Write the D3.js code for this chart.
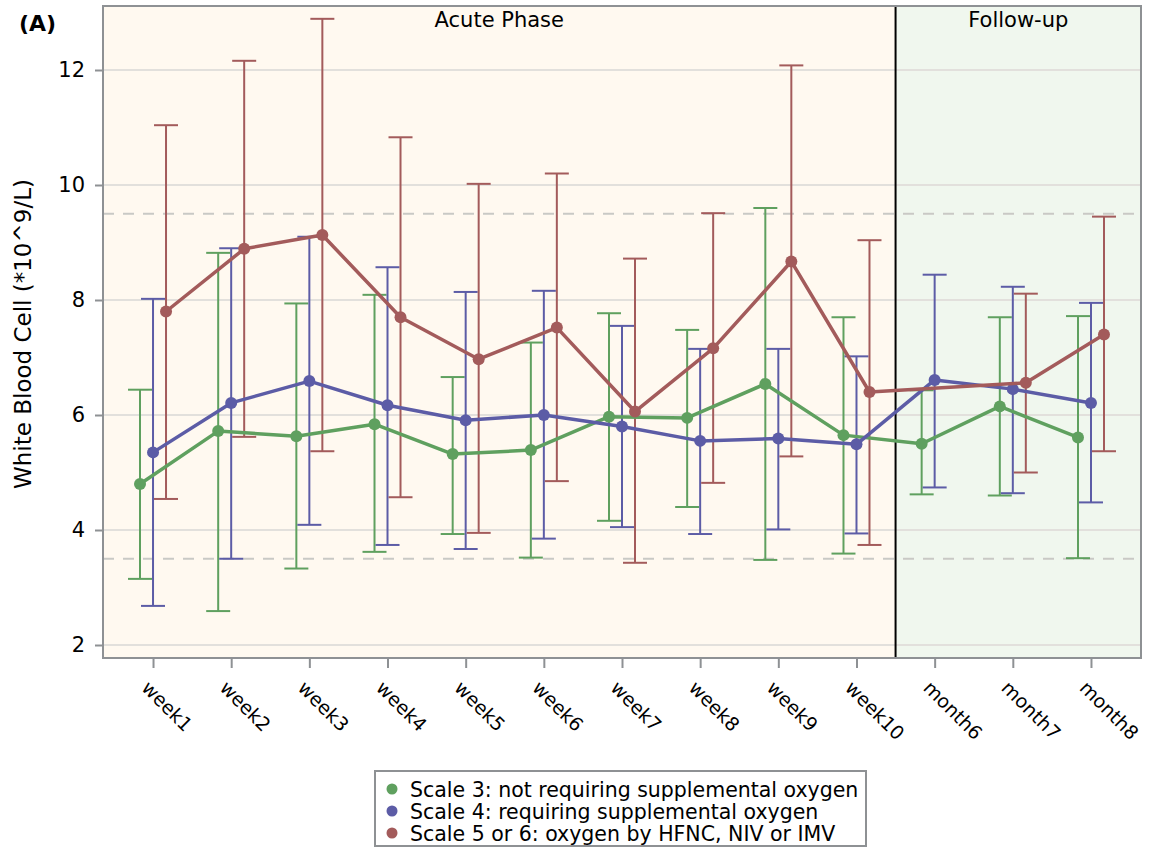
<!DOCTYPE html>
<html>
<head>
<meta charset="utf-8">
<script src="https://cdn.jsdelivr.net/npm/d3@7"></script>
<style>
  body { margin: 0; background: #fff; }
  text { font-family: "DejaVu Sans", sans-serif; }
</style>
</head>
<body>
<div id="chartArea"></div>
<script>
const categories = ["week1", "week2", "week3", "week4", "week5", "week6", "week7", "week8", "week9", "week10", "month6", "month7", "month8"];
const yTicks = [2, 4, 6, 8, 10, 12];
const refLines = [3.5, 9.5];

const scale3Mean = [4.80, 5.72, 5.63, 5.84, 5.32, 5.39, 5.97, 5.95, 6.54, 5.65, 5.50, 6.15, 5.61];
const scale3Low = [3.15, 2.59, 3.33, 3.62, 3.93, 3.52, 4.16, 4.40, 3.48, 3.59, 4.62, 4.60, 3.51];
const scale3High = [6.44, 8.82, 7.94, 8.09, 6.66, 7.26, 7.77, 7.48, 9.60, 7.70, 6.43, 7.70, 7.72];

const scale4Mean = [5.35, 6.21, 6.59, 6.17, 5.91, 6.00, 5.80, 5.55, 5.59, 5.49, 6.61, 6.45, 6.21];
const scale4Low = [2.68, 3.50, 4.09, 3.74, 3.67, 3.85, 4.05, 3.93, 4.01, 3.94, 4.74, 4.64, 4.48];
const scale4High = [8.02, 8.90, 9.10, 8.57, 8.14, 8.16, 7.55, 7.15, 7.15, 7.02, 8.44, 8.23, 7.95];

const scale56Mean = [7.80, 8.89, 9.13, 7.70, 6.97, 7.52, 6.06, 7.16, 8.67, 6.40, null, 6.56, 7.40];
const scale56Low = [4.54, 5.62, 5.37, 4.57, 3.95, 4.85, 3.43, 4.82, 5.28, 3.74, null, 5.00, 5.37];
const scale56High = [11.04, 12.16, 12.89, 10.83, 10.02, 10.20, 8.72, 9.51, 12.08, 9.04, null, 8.11, 9.45];

const seriesNames = [
    "Scale 3: not requiring supplemental oxygen",
    "Scale 4: requiring supplemental oxygen",
    "Scale 5 or 6: oxygen by HFNC, NIV or IMV"
];
const seriesColors = ["#5fa05f", "#5c5ca6", "#a35b5b"];
const seriesOffsets = [-13, 0, 13];

const series = [
    { mean: scale3Mean, low: scale3Low, high: scale3High },
    { mean: scale4Mean, low: scale4Low, high: scale4High },
    { mean: scale56Mean, low: scale56Low, high: scale56High }
].map((s, i) => ({
    name: seriesNames[i],
    color: seriesColors[i],
    offset: seriesOffsets[i],
    points: categories.map((c, j) => ({ cat: c, mean: s.mean[j], low: s.low[j], high: s.high[j] }))
        .filter(d => d.mean != null)
}));

const W = 1150, H = 852;
const plot = { left: 103, right: 1141, top: 6, bottom: 658 };

const svg = d3.select("#chartArea").append("svg")
    .attr("width", W)
    .attr("height", H);

const x = d3.scalePoint().domain(categories).range([plot.left, plot.right]).padding(0.64);
const y = d3.scaleLinear().domain([1.774, 13.113]).range([plot.bottom, plot.top]);

const divX = (x("week10") + x("month6")) / 2;

// phase backgrounds
svg.append("rect")
    .attr("x", plot.left).attr("y", plot.top)
    .attr("width", divX - plot.left).attr("height", plot.bottom - plot.top)
    .style("fill", "#fff9f0");
svg.append("rect")
    .attr("x", divX).attr("y", plot.top)
    .attr("width", plot.right - divX).attr("height", plot.bottom - plot.top)
    .style("fill", "#f0f7ee");

// grid
svg.append("g").selectAll("line")
    .data(yTicks)
    .enter().append("line")
    .attr("x1", plot.left).attr("x2", plot.right)
    .attr("y1", d => y(d)).attr("y2", d => y(d))
    .style("stroke", "#e2e0dc")
    .style("stroke-width", 2);

// reference lines
svg.append("g").selectAll("line")
    .data(refLines)
    .enter().append("line")
    .attr("x1", plot.left).attr("x2", plot.right)
    .attr("y1", d => y(d)).attr("y2", d => y(d))
    .style("stroke", "#c9c9c5")
    .style("stroke-width", 2)
    .style("stroke-dasharray", "11,9");

// divider
svg.append("line")
    .attr("x1", divX).attr("x2", divX)
    .attr("y1", plot.top).attr("y2", plot.bottom)
    .style("stroke", "#000")
    .style("stroke-width", 2);

// phase labels
svg.append("text")
    .attr("x", (plot.left + divX) / 2).attr("y", 27)
    .attr("text-anchor", "middle")
    .style("font-size", "21px")
    .text("Acute Phase");
svg.append("text")
    .attr("x", (divX + plot.right) / 2).attr("y", 27)
    .attr("text-anchor", "middle")
    .style("font-size", "21px")
    .text("Follow-up");

// series
const line = d3.line()
    .x(d => x(d.cat))
    .y(d => y(d.mean));

series.forEach(s => {
    const g = svg.append("g").attr("transform", `translate(${s.offset},0)`);
    const bars = g.selectAll(".err")
        .data(s.points)
        .enter().append("g")
        .style("stroke", s.color)
        .style("stroke-width", 2);
    bars.append("line")
        .attr("x1", d => x(d.cat)).attr("x2", d => x(d.cat))
        .attr("y1", d => y(d.low)).attr("y2", d => y(d.high));
    bars.append("line")
        .attr("x1", d => x(d.cat) - 12).attr("x2", d => x(d.cat) + 12)
        .attr("y1", d => y(d.low)).attr("y2", d => y(d.low));
    bars.append("line")
        .attr("x1", d => x(d.cat) - 12).attr("x2", d => x(d.cat) + 12)
        .attr("y1", d => y(d.high)).attr("y2", d => y(d.high));
});

series.forEach(s => {
    const g = svg.append("g").attr("transform", `translate(${s.offset},0)`);
    g.append("path")
        .datum(s.points)
        .attr("d", line)
        .style("fill", "none")
        .style("stroke", s.color)
        .style("stroke-width", 3.5)
        .style("stroke-linejoin", "round");
    g.selectAll("circle")
        .data(s.points)
        .enter().append("circle")
        .attr("cx", d => x(d.cat))
        .attr("cy", d => y(d.mean))
        .attr("r", 6)
        .style("fill", s.color);
});

// frame
svg.append("rect")
    .attr("x", plot.left).attr("y", plot.top)
    .attr("width", plot.right - plot.left).attr("height", plot.bottom - plot.top)
    .style("fill", "none")
    .style("stroke", "#8e9194")
    .style("stroke-width", 2);

// axes
const yAxis = svg.append("g")
    .attr("transform", `translate(${plot.left},0)`)
    .call(d3.axisLeft(y).tickValues(yTicks).tickSize(8).tickPadding(10));
yAxis.select(".domain").remove();
yAxis.selectAll(".tick line").style("stroke", "#8e9194").style("stroke-width", 2);
yAxis.selectAll(".tick text")
    .style("font-size", "21px")
    .style("font-family", "DejaVu Sans")
    .style("fill", "#000");

const xAxis = svg.append("g")
    .attr("transform", `translate(0,${plot.bottom})`)
    .call(d3.axisBottom(x).tickSize(10));
xAxis.select(".domain").remove();
xAxis.selectAll(".tick line").style("stroke", "#8e9194").style("stroke-width", 2);
xAxis.selectAll(".tick text")
    .attr("x", 0).attr("y", 0).attr("dy", 0)
    .attr("transform", "translate(-13,31) rotate(45)")
    .style("text-anchor", "start")
    .style("font-size", "19px")
    .style("font-family", "DejaVu Sans")
    .style("fill", "#000");

// y label
svg.append("text")
    .attr("transform", "translate(31,334) rotate(-90)")
    .attr("text-anchor", "middle")
    .style("font-size", "23px")
    .text("White Blood Cell (*10^9/L)");

// panel label
svg.append("text")
    .attr("x", 19).attr("y", 31)
    .style("font-size", "22px")
    .style("font-weight", "bold")
    .text("(A)");

// legend
const legend = svg.append("g").attr("transform", "translate(375,771)");
legend.append("rect")
    .attr("width", 491).attr("height", 75)
    .style("fill", "#fff")
    .style("stroke", "#8e9194")
    .style("stroke-width", 2);
const rows = legend.selectAll(".row")
    .data(series)
    .enter().append("g")
    .attr("transform", (d, i) => `translate(0,${26 + i * 22})`);
rows.append("circle")
    .attr("cx", 17).attr("cy", -8).attr("r", 5.5)
    .style("fill", d => d.color);
rows.append("text")
    .attr("x", 35).attr("y", 0)
    .style("font-size", "20.5px")
    .text(d => d.name);
</script>
</body>
</html>
